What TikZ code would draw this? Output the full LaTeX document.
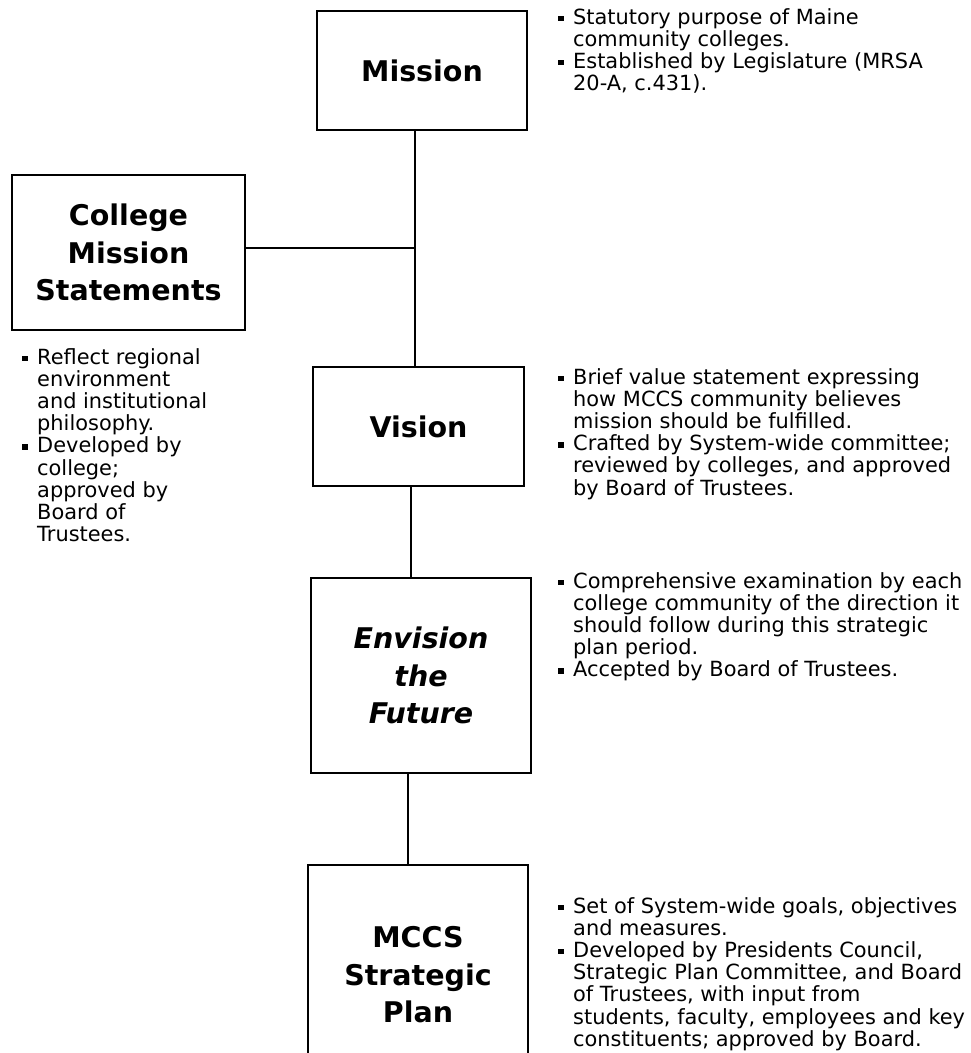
\documentclass[tikz,border=0pt]{standalone}
\usepackage{fontspec}
\setmainfont{DejaVu Sans}
\newfontfamily\titlefont{DejaVu Sans}
\newcommand{\bul}{\makebox[16pt][l]{\hspace*{1pt}\raisebox{3pt}{\rule{5.5pt}{5.5pt}}}}
\newcommand{\ind}{\hspace*{16pt}}
\tikzset{
  box/.style={draw, line width=2pt, align=center, inner sep=0pt},
  ttl/.style={font=\titlefont\fontsize{28.5}{37.5}\selectfont\bfseries},
  txt/.style={anchor=north west, align=left, inner sep=0pt, font=\fontsize{20.9}{22.2}\selectfont},
  conn/.style={line width=2pt}
}
\begin{document}
\begin{tikzpicture}[x=1pt,y=-1pt]
\clip (0,0) rectangle (970,1053);
\node[box, ttl, minimum width=210pt, minimum height=119pt] (mission) at (422,70.5) {Mission};
\node[box, ttl, minimum width=233pt, minimum height=155pt] (college) at (128.5,252.5) {College\\Mission\\Statements};
\node[box, ttl, minimum width=211pt, minimum height=119pt] (vision) at (418.5,426.5) {Vision};
\node[box, ttl, font=\titlefont\fontsize{28.5}{37.5}\selectfont\bfseries\itshape, minimum width=220pt, minimum height=195pt] (envision) at (421,675.5) {Envision\\the\\Future};
\node[box, ttl, minimum width=220pt, minimum height=220pt] (mccs) at (418,975) {MCCS\\Strategic\\Plan};

\coordinate (vtop) at ([xshift=-3.5pt]vision.north);
\coordinate (vbot) at ([xshift=-7.5pt]vision.south);
\coordinate (mtop) at ([xshift=-10pt]mccs.north);
\coordinate (ceast) at ([yshift=5pt]college.east);

\draw[conn] (vtop |- mission.south) -- (vtop);
\draw[conn] (ceast) -- (ceast -| vtop);
\draw[conn] (vbot) -- (vbot |- envision.north);
\draw[conn] (mtop) -- (mtop |- envision.south);

\node[txt] (t1) at (557,8) {\bul Statutory purpose of Maine\\\ind community colleges.\\\bul Established by Legislature (MRSA\\\ind 20-A, c.431).};
\node[txt] (t2) at (21,348) {\bul Reflect regional\\\ind environment\\\ind and institutional\\\ind philosophy.\\\bul Developed by\\\ind college;\\\ind approved by\\\ind Board of\\\ind Trustees.};
\node[txt] (t3) at (557,368) {\bul Brief value statement expressing\\\ind how MCCS community believes\\\ind mission should be fulfilled.\\\bul Crafted by System-wide committee;\\\ind reviewed by colleges, and approved\\\ind by Board of Trustees.};
\node[txt] (t4) at (557,572) {\bul Comprehensive examination by each\\\ind college community of the direction it\\\ind should follow during this strategic\\\ind plan period.\\\bul Accepted by Board of Trustees.};
\node[txt] (t5) at (557,897) {\bul Set of System-wide goals, objectives\\\ind and measures.\\\bul Developed by Presidents Council,\\\ind Strategic Plan Committee, and Board\\\ind of Trustees, with input from\\\ind students, faculty, employees and key\\\ind constituents; approved by Board.};
\end{tikzpicture}
\end{document}
